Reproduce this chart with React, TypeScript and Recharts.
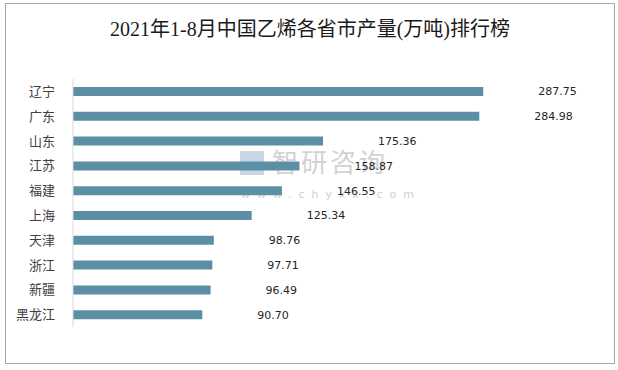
import { BarChart, Bar, XAxis, YAxis, LabelList } from 'recharts';

const PROVINCES = ['辽宁', '广东', '山东', '江苏', '福建', '上海', '天津', '浙江', '新疆', '黑龙江'];
const OUTPUT = [287.75, 284.98, 175.36, 158.87, 146.55, 125.34, 98.76, 97.71, 96.49, 90.7];
const TITLE = '2021年1-8月中国乙烯各省市产量(万吨)排行榜';

const data = PROVINCES.map((name, i) => ({ name, value: OUTPUT[i] }));

export default function App() {
  return (
    <div style={{ position: 'absolute', left: 0, top: 0, width: 618, height: 370, background: '#fff' }}>
      <div
        style={{
          position: 'absolute',
          left: 5,
          top: 3,
          width: 610,
          height: 361,
          border: '1px solid #a6a6a6',
          boxSizing: 'border-box',
        }}
      />
      <div
        style={{
          position: 'absolute',
          left: 0,
          top: 16,
          width: 620,
          textAlign: 'center',
          fontFamily: "'Liberation Serif', 'Noto Sans CJK SC', serif",
          fontSize: 20,
          color: '#1a1a1a',
          lineHeight: '26px',
        }}
      >
        {TITLE}
      </div>
      {/* watermark */}
      <div
        style={{
          position: 'absolute',
          left: 240,
          top: 142,
          fontFamily: "'Noto Sans CJK SC', sans-serif",
          fontSize: 26,
          color: '#d2d2d2',
          letterSpacing: 3,
        }}
      >
        <span style={{ display: 'inline-block', width: 24, height: 24, background: '#c9d5e3', marginRight: 8, verticalAlign: -3 }} />
        智研咨询
      </div>
      <div
        style={{
          position: 'absolute',
          left: 241,
          top: 188,
          fontFamily: "'DejaVu Sans', sans-serif",
          fontSize: 11,
          color: '#cfcfcf',
          letterSpacing: 7,
        }}
      >
        www.chyxx.com
      </div>
      <div style={{ position: 'absolute', left: 0, top: 0 }}>
        <BarChart
          width={618}
          height={370}
          data={data}
          layout="vertical"
          margin={{ top: 79, right: 46, bottom: 43, left: 0 }}
          barSize={9}
        >
          <XAxis type="number" domain={[0, 350]} hide />
          <YAxis
            type="category"
            dataKey="name"
            width={73}
            axisLine={{ stroke: '#d9d9d9' }}
            tickLine={false}
            tickMargin={12}
            tick={{ fontSize: 13, fill: '#404040', fontFamily: "'Noto Sans CJK SC', sans-serif" }}
          />
          <Bar dataKey="value" fill="#5b8fa6" isAnimationActive={false}>
            <LabelList
              dataKey="value"
              position="right"
              offset={55}
              formatter={(v: number) => v.toFixed(2)}
              style={{ fontSize: 11, fill: '#262626', fontFamily: "'DejaVu Sans', sans-serif" }}
            />
          </Bar>
        </BarChart>
      </div>
    </div>
  );
}
